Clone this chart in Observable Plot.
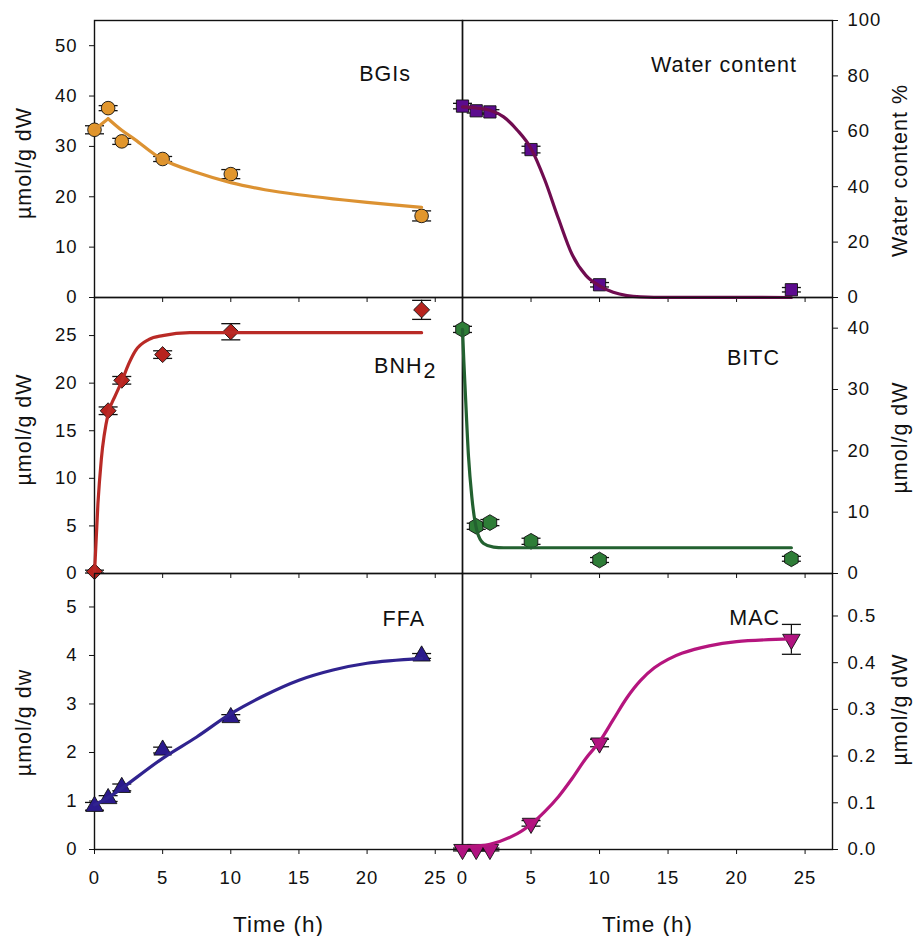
<!DOCTYPE html>
<html><head><meta charset="utf-8">
<script src="https://cdn.jsdelivr.net/npm/d3@7"></script>
<script src="https://cdn.jsdelivr.net/npm/@observablehq/plot@0.6"></script>
<style>
body{margin:0;background:#fff;}
#chart{position:relative;width:916px;height:936px;background:#fff;overflow:hidden;}
#chart svg{position:absolute;}
</style></head><body><div id="chart"></div>
<script>
// ---- data ----
const times = [0, 1, 2, 5, 10, 24];

const bgiValues = [33.3, 37.6, 31.0, 27.5, 24.5, 16.2];
const bgiErrors = [0.8, 0.5, 0.6, 0.5, 0.9, 1.0];
const bgiFitT = [0, 1, 2, 3, 5, 7.5, 10, 12.5, 15, 17.5, 20, 24];
const bgiFitV = [33.3, 35.5, 33.2, 31.3, 27.4, 24.8, 22.8, 21.4, 20.4, 19.6, 18.9, 17.9];

const waterValues = [69.1, 67.4, 67.0, 53.4, 4.6, 2.8];
const waterErrors = [1.0, 0.8, 0.8, 1.2, 0.8, 0.8];
const waterFitT = [0, 1, 2, 3, 4, 5, 6, 7, 8, 9, 10, 11, 12, 13, 15, 24];
const waterFitV = [68.8, 68.4, 67.6, 65.2, 60.4, 53.8, 42.5, 28.5, 15.5, 8.0, 4.2, 1.9, 0.7, 0.25, 0.05, 0];

const bnhValues = [0.2, 17.1, 20.3, 23.0, 25.4, 27.7];
const bnhErrors = [0.15, 0.4, 0.4, 0.4, 0.85, 1.0];
const bnhFitT = [0, 0.25, 0.5, 1, 1.5, 2, 2.5, 3, 4, 5, 7, 10, 24];
const bnhFitV = [0, 7.3, 12.0, 16.8, 18.6, 20.2, 22.0, 23.4, 24.6, 25.0, 25.3, 25.3, 25.3];

const bitcValues = [39.8, 7.7, 8.3, 5.25, 2.2, 2.4];
const bitcErrors = [0.5, 0.5, 0.5, 0.5, 0.4, 0.4];
const bitcFitT = [0, 0.1, 0.2, 0.44, 0.68, 1.05, 1.54, 2.27, 3, 24];
const bitcFitV = [39.8, 34.5, 29.8, 19.0, 12.5, 7.0, 4.9, 4.3, 4.2, 4.2];

const ffaValues = [0.89, 1.05, 1.28, 2.05, 2.72, 3.99];
const ffaErrors = [0.08, 0.06, 0.07, 0.06, 0.06, 0.05];
const ffaFitT = [0, 1, 2, 5, 7.5, 10, 12.5, 15, 17.5, 20, 24];
const ffaFitV = [0.92, 1.07, 1.26, 1.88, 2.32, 2.80, 3.18, 3.49, 3.70, 3.84, 3.94];

const macValues = [0.0, 0.0, 0.0, 0.056, 0.228, 0.45];
const macErrors = [0.003, 0.003, 0.003, 0.006, 0.008, 0.032];
const macFitT = [0, 2, 4, 5, 6, 7, 8, 9, 10, 11, 12, 13, 14, 15, 16, 18, 20, 24];
const macFitV = [0.006, 0.011, 0.034, 0.054, 0.081, 0.113, 0.152, 0.195, 0.231, 0.278, 0.325, 0.362, 0.389, 0.407, 0.420, 0.436, 0.445, 0.451];

const xTicks = [0, 5, 10, 15, 20, 25];
const bgiTicks = [0, 10, 20, 30, 40, 50];
const waterTicks = [0, 20, 40, 60, 80, 100];
const bnhTicks = [0, 5, 10, 15, 20, 25];
const bitcTicks = [0, 10, 20, 30, 40];
const ffaTicks = [0, 1, 2, 3, 4, 5];
const macTicks = [0, 0.1, 0.2, 0.3, 0.4, 0.5];

// ---- layout ----
const FONT = "'Liberation Sans', Arial, Helvetica, sans-serif";
const rowTops = [20, 297, 573];
const rowHeights = [277, 276, 276];
const chart = document.getElementById("chart");

const capSymbol = {draw(ctx) { ctx.moveTo(-9.5, 0); ctx.lineTo(9.5, 0); }};

function pts(ts, vs, es) { return ts.map((t, i) => ({t, v: vs[i], e: es ? es[i] : 0})); }

function panel(cfg) {
  const left = cfg.col === 0;
  const mTop = 20, mBottom = cfg.row < 2 ? 20 : 87;
  const mLeft = left ? 94 : 20, mRight = left ? 20 : 84;
  const fw = left ? 368 : 370;
  const data = pts(times, cfg.values, cfg.errors);
  const fit = pts(cfg.fitT, cfg.fitV);
  const lineMarks = (cfg.splitAt != null)
    ? [Plot.line(fit.slice(0, cfg.splitAt + 1), {x: "t", y: "v", stroke: cfg.line, strokeWidth: 3.2, curve: "linear"}),
       Plot.line(fit.slice(cfg.splitAt), {x: "t", y: "v", stroke: cfg.line, strokeWidth: 3.2, curve: "catmull-rom"})]
    : [Plot.line(fit, {x: "t", y: "v", stroke: cfg.line, strokeWidth: 3.2, curve: cfg.curve || "catmull-rom"})];
  const labels = cfg.labels.map(L => Plot.text([L.text], {
    text: d => d, frameAnchor: "top-left", dx: L.dx, dy: L.dy,
    textAnchor: L.anchor || "end", lineAnchor: "bottom", fontSize: 21.5, fill: "#111"
  }));
  const svg = Plot.plot({
    width: mLeft + fw + mRight,
    height: mTop + rowHeights[cfg.row] + mBottom,
    marginTop: mTop, marginBottom: mBottom, marginLeft: mLeft, marginRight: mRight,
    style: {fontFamily: FONT, fontSize: "18.5px", letterSpacing: "1px", color: "#111",
            background: "transparent", overflow: "visible"},
    x: {domain: [0, 27], ticks: xTicks, tickSize: 5, tickPadding: 16, label: null,
        tickFormat: cfg.row < 2 ? () => "" : d3.format("d")},
    y: {domain: cfg.yDomain, ticks: cfg.yTicks, tickSize: 5, tickPadding: left ? 12 : 10, label: null,
        axis: left ? "left" : "right", tickFormat: cfg.yFormat || d3.format("d")},
    marks: [
      Plot.frame({stroke: "#111", strokeWidth: 1.4}),
      Plot.ruleX(data, {x: "t", y1: d => d.v - d.e, y2: d => d.v + d.e, stroke: "#111", strokeWidth: 1.2}),
      Plot.dot(data, {x: "t", y: d => d.v + d.e, symbol: capSymbol, r: 5, stroke: "#111", fill: "none", strokeWidth: 1.3}),
      Plot.dot(data, {x: "t", y: d => d.v - d.e, symbol: capSymbol, r: 5, stroke: "#111", fill: "none", strokeWidth: 1.3}),
      Plot.dot(data, {x: "t", y: "v", symbol: cfg.symbol, r: cfg.r, rotate: cfg.rotate || 0,
                      fill: cfg.fill, stroke: "#111", strokeWidth: 0.9}),
      ...lineMarks,
      ...labels,
      Plot.text([cfg.yLabel], {text: d => d, frameAnchor: left ? "left" : "right",
        dx: left ? -70 : 68, dy: cfg.yLabelDy, rotate: -90, textAnchor: "middle",
        lineAnchor: "middle", fontSize: 21.5, fill: "#111"}),
      ...(cfg.row === 2 ? [Plot.text(["Time (h)"], {text: d => d, frameAnchor: "bottom", dy: 82,
        lineAnchor: "bottom", textAnchor: "middle", fontSize: 22.5, fill: "#111"})] : [])
    ]
  });
  svg.style.left = (left ? 0 : 442) + "px";
  svg.style.top = (rowTops[cfg.row] - mTop) + "px";
  chart.appendChild(svg);
}

panel({col: 0, row: 0, values: bgiValues, errors: bgiErrors, fitT: bgiFitT, fitV: bgiFitV, splitAt: 1,
  symbol: "circle", r: 6.8, fill: "#E1962D", line: "#DC9232", yDomain: [0, 55], yTicks: bgiTicks,
  yLabel: "µmol/g dW", yLabelDy: 4, labels: [{text: "BGIs", dx: 316.5, dy: 60}]});
panel({col: 0, row: 1, values: bnhValues, errors: bnhErrors, fitT: bnhFitT, fitV: bnhFitV, curve: "monotone-x",
  symbol: "diamond2", r: 7.2, fill: "#B7231E", line: "#B92A26", yDomain: [0, 29], yTicks: bnhTicks,
  yLabel: "µmol/g dW", yLabelDy: -6,
  labels: [{text: "BNH", dx: 328, dy: 75}, {text: "2", dx: 329, dy: 80, anchor: "start"}]});
panel({col: 0, row: 2, values: ffaValues, errors: ffaErrors, fitT: ffaFitT, fitV: ffaFitV,
  symbol: "triangle", r: 6.5, fill: "#2B1A8C", line: "#30238F", yDomain: [0, 5.69], yTicks: ffaTicks,
  yLabel: "µmol/g dw", yLabelDy: 11, labels: [{text: "FFA", dx: 330.5, dy: 52}]});
panel({col: 1, row: 0, values: waterValues, errors: waterErrors, fitT: waterFitT, fitV: waterFitV, curve: "monotone-x",
  symbol: "square", r: 6.9, fill: "#5C0B8E", line: "#700C50", yDomain: [0, 100], yTicks: waterTicks,
  yLabel: "Water content %", yLabelDy: 11.5, labels: [{text: "Water content", dx: 334.5, dy: 51}]});
panel({col: 1, row: 1, values: bitcValues, errors: bitcErrors, fitT: bitcFitT, fitV: bitcFitV, curve: "monotone-x",
  symbol: "hexagon", r: 6.8, fill: "#2E7D37", line: "#236130", yDomain: [0, 45], yTicks: bitcTicks,
  yLabel: "µmol/g dW", yLabelDy: 2, labels: [{text: "BITC", dx: 317.5, dy: 67}]});
panel({col: 1, row: 2, values: macValues, errors: macErrors, fitT: macFitT, fitV: macFitV,
  symbol: "triangle", r: 6.5, rotate: 180, fill: "#B01380", line: "#B5157E", yDomain: [0, 0.591], yTicks: macTicks,
  yFormat: d3.format(".1f"), yLabel: "µmol/g dW", yLabelDy: -2, labels: [{text: "MAC", dx: 317.5, dy: 51}]});
</script></body></html>
